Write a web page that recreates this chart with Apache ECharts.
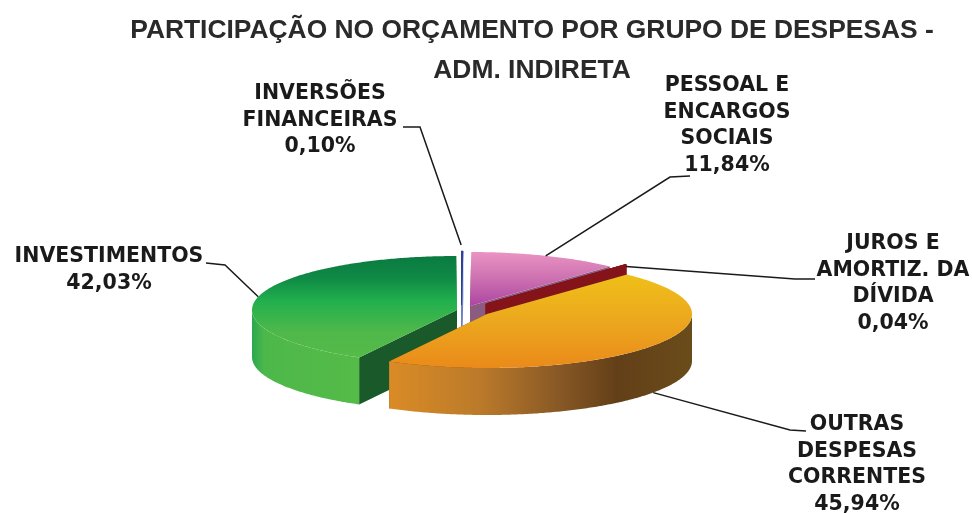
<!DOCTYPE html>
<html><head><meta charset="utf-8">
<style>html,body{margin:0;padding:0;background:#fff}#c{width:972px;height:513px;filter:blur(0.45px)}</style>
<script src="https://cdn.jsdelivr.net/npm/echarts@6/dist/echarts.min.js"></script>
</head><body><div id="c"></div>
<script>
// Data, clockwise from 12 o'clock
const categories = ['INVERSÕES\nFINANCEIRAS', 'PESSOAL E\nENCARGOS\nSOCIAIS', 'JUROS E\nAMORTIZ. DA\nDÍVIDA', 'OUTRAS\nDESPESAS\nCORRENTES', 'INVESTIMENTOS'];
const values = [0.10, 11.84, 0.04, 45.94, 42.03];
const titleLines = ['PARTICIPAÇÃO NO ORÇAMENTO POR GRUPO DE DESPESAS -', 'ADM. INDIRETA'];

// Presentation only
const RX = 205, RY = 54, DEPTH = 47;
const G = (x0, y0, x1, y1, s) => new echarts.graphic.LinearGradient(x0, y0, x1, y1, s.map((c, i) => ({offset: c[0], color: c[1]})));
const look = [
  {c:[461.5,305], z:1, top:'#2f3f96', wall:'#6f7fc0', end:'#6f7fc0', label:[320,80], elbow:[[420,127],[403,127]], gap:[-1,-6]},
  {c:[470,306], z:2, top:G(0,0,0,1,[[0,'#ea93c3'],[.5,'#cc70b0'],[1,'#ad45a3']]), wall:'#8b5c80', end:'#8b5c80', label:[727,72], elbow:[[670,177],[690,176]], gap:[0,0]},
  {c:[486,304], z:3, top:'#85141a', wall:'#85141a', end:'#85141a', label:[893,230], elbow:[[795,279],[815,279]], gap:[0,2]},
  {c:[487,314], z:5, top:G(0,0,0,1,[[0,'#efc018'],[.45,'#ecaa1e'],[1,'#ea8a1a']]),
    wall:G(0,0,1,0,[[0,'#da8b26'],[.3,'#bb7a2a'],[.55,'#8a5a26'],[.75,'#633f18'],[1,'#6a4c1a']]), end:'#6a4c1a', label:[857,411], elbow:[[790,430],[806,431]], gap:[0,0]},
  {c:[457,310], z:4, top:G(0,0,0,1,[[0,'#0a7a40'],[.22,'#0f8a45'],[.45,'#22b04e'],[.75,'#4fb84a'],[1,'#55bb48']]),
    wall:G(0,0,1,0,[[0,'#2aa84f'],[.12,'#4db84a'],[1,'#55bb48']]), end:'#1a5a2a', label:[109,243], elbow:[[225,265],[206,263]], gap:[0,0]}
];
const total = 100;
const starts = []; values.reduce((a, v, i) => (starts[i] = a, a + v), 0);
const rad = p => p / total * 2 * Math.PI;
const rim = (c, a, dy) => [c[0] + RX * Math.sin(a), c[1] - RY * Math.cos(a) + (dy || 0)];
const arc = (c, a0, a1, dy) => { const n = Math.max(2, Math.ceil((a1 - a0) * 90)), r = [];
  for (let k = 0; k <= n; k++) r.push(rim(c, a0 + (a1 - a0) * k / n, dy)); return r; };
const font = (size) => ({fontFamily: 'DejaVu Sans', fontWeight: 'bold', fontSize: size});

function renderItem(params, api) {
  const i = params.dataIndex, v = api.value(0), L = look[i], c = L.c;
  const a0 = rad(starts[i]), a1 = rad(starts[i] + v), mid = (a0 + a1) / 2;
  const kids = [], poly = (points, fill, z) => kids.push({type:'polygon', z2:L.z * 10 + z, shape:{points}, style:{fill, stroke: v < 0.5 ? fill : null, lineWidth: v < 0.5 ? 1 : 0}});
  // cut faces at both ends of the slice; the hidden one is covered by the top face
  const e1 = rim(c, a1), e0 = rim(c, a0);
  poly([c, e0, [e0[0], e0[1] + DEPTH], [c[0], c[1] + DEPTH]], L.end, 0);
  poly([c, e1, [e1[0], e1[1] + DEPTH], [c[0], c[1] + DEPTH]], L.end, 0);
  // outer wall: front half of the rim only
  const s = Math.max(a0, Math.PI / 2), e = Math.min(a1, 3 * Math.PI / 2);
  if (e > s) poly(arc(c, s, e).concat(arc(c, s, e, DEPTH).reverse()), L.wall, 1);
  // top face
  poly([c].concat(arc(c, a0, a1)), L.top, 2);
  // leader
  const front = Math.cos(mid) < 0 && i === 3;
  const anchor = rim(c, mid, front ? DEPTH : 0);
  anchor[0] += L.gap[0]; anchor[1] += L.gap[1];
  kids.push({type:'polyline', z2:100, shape:{points:[anchor].concat(L.elbow)}, style:{stroke:'#1a1a1a', lineWidth:1.5, fill:null}});
  // label
  kids.push({type:'text', z2:101, x:L.label[0], y:L.label[1], style:Object.assign({
    text: categories[i] + '\n' + v.toFixed(2).replace('.', ',') + '%', align:'center', verticalAlign:'top', lineHeight:26.8, fill:'#1a1a1a'}, font(20.5))});
  return {type:'group', children:kids};
}
const chart = echarts.init(document.getElementById('c'), null, {renderer:'canvas'});
chart.setOption({
  animation:false, backgroundColor:'#fff',
  title:{text:titleLines.join('\n'), left:527, top:6, textAlign:'center',
    textStyle:{fontFamily:'Liberation Sans', fontWeight:'bold', fontSize:26.4, lineHeight:39.5, color:'#2a2a2a'}},
  series:[{type:'custom', coordinateSystem:'none', silent:true, renderItem, data:values.map(v => [v])}]
});
</script></body></html>
